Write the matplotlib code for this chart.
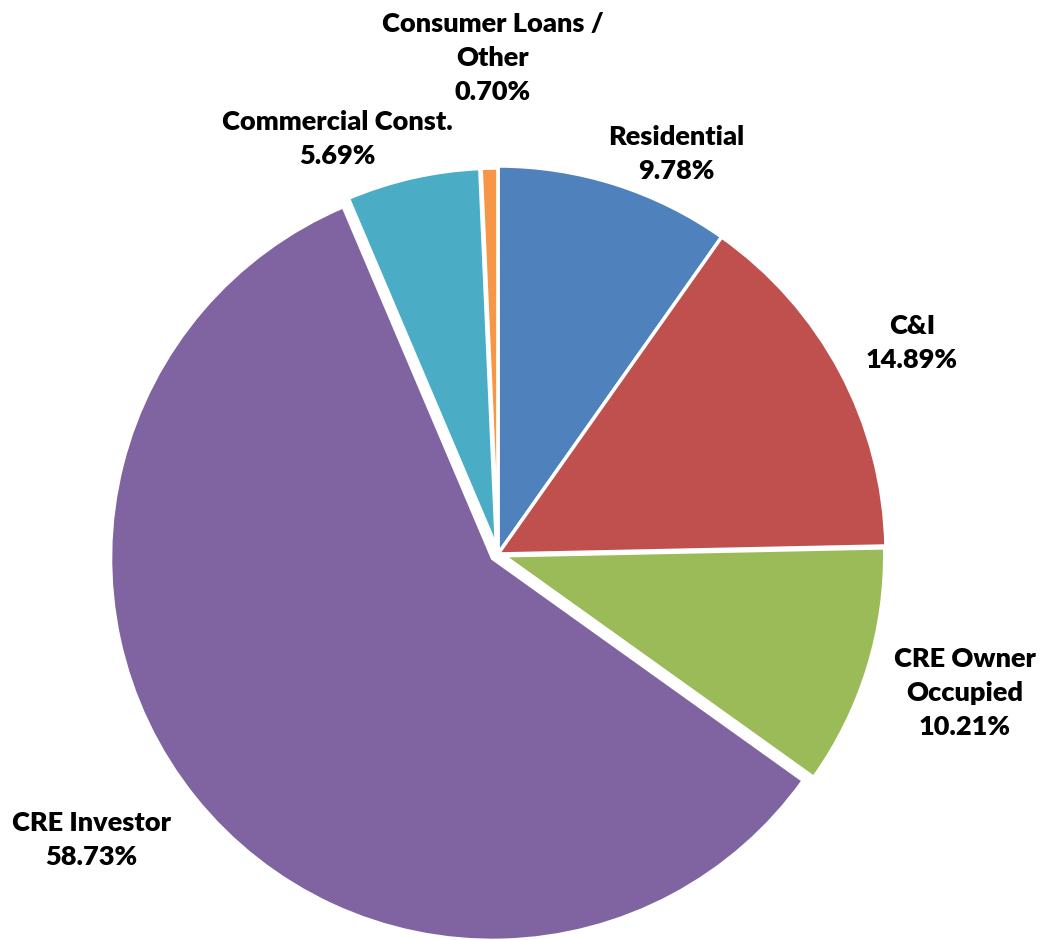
import matplotlib
matplotlib.use("Agg")
import matplotlib.pyplot as plt

categories = ["Residential", "C&I", "CRE Owner\nOccupied", "CRE Investor",
              "Commercial Const.", "Consumer Loans /\nOther"]
shares = [9.78, 14.89, 10.21, 58.73, 5.69, 0.70]
colors = ["#4F81BD", "#C0504D", "#9BBB59", "#8064A2", "#4BACC6", "#F79646"]
# pulled-out wedges: offset and radius reduction, both in pixels
explode_px = [0, 0, 6, 7, 7, 4]
trim_px = [0, 0, 7, 6, 9, 6]

# label anchor points (pixel coordinates, y measured from the bottom)
label_pos = [(676, 786), (912, 597), (965, 247), (91, 100), (337, 801), (493, 882)]

W, H = 1049, 940
fig = plt.figure(figsize=(W / 100, H / 100), dpi=100)
ax = fig.add_axes([0, 0, 1, 1])

R = 388
wedges, _ = ax.pie(shares, colors=colors, startangle=90, counterclock=False,
                   center=(498, 386), radius=R, explode=explode_px,
                   wedgeprops=dict(edgecolor="white", linewidth=2.5), frame=True)
for w, t in zip(wedges, trim_px):
    w.set_radius(R - t)

ax.set_xlim(0, W)
ax.set_ylim(0, H)
ax.set_aspect("equal")
ax.axis("off")

for name, val, (x, y) in zip(categories, shares, label_pos):
    ax.text(x, y, f"{name}\n{val:.2f}%", ha="center", va="center",
            fontsize=19.5, fontweight="heavy", family=["Lato", "DejaVu Sans"],
            linespacing=1.5, color="black")

fig.savefig("out.png", dpi=100)
